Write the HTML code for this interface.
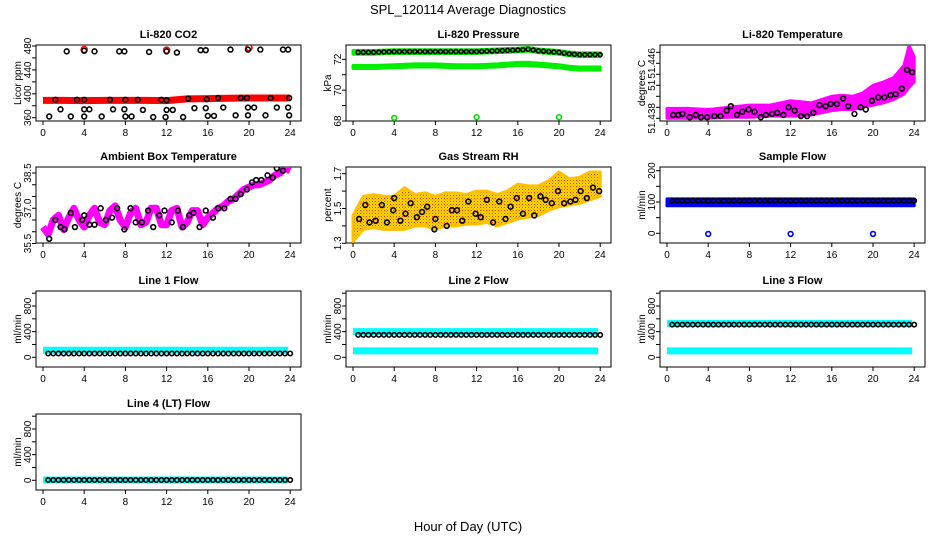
<!DOCTYPE html>
<html><head><meta charset="utf-8"><style>
body{margin:0;background:#fff;}
svg{display:block;font-family:"Liberation Sans",sans-serif;}
</style></head><body>
<svg id="chart" width="936" height="540" viewBox="0 0 936 540" xmlns="http://www.w3.org/2000/svg">
<defs>
<pattern id="rhpat" width="3" height="3" patternUnits="userSpaceOnUse"><rect width="3" height="3" fill="#ffe000"/><rect x="0" y="0" width="1" height="1" fill="#ff2000"/><rect x="1.5" y="1.5" width="1" height="1" fill="#ff6000"/></pattern>
</defs>
<text x="468" y="14" text-anchor="middle" font-size="13">SPL_120114  Average Diagnostics</text>
<text x="468" y="531" text-anchor="middle" font-size="13">Hour of Day (UTC)</text>
</svg>
<script>
// ---- data ----
const xTicks=[0,4,8,12,16,20,24];
// CO2
const co2BandHours=[0,2,4,6,8,10,12,13,14,16,18,20,22,24];
const co2BandVals=[389,389,388.5,389,389,389,388.5,390,391.5,392,392.5,393,393,393];
const co2SpikeHours=[4,12,20];
const co2SpikeVals=[474,473,477];
const co2CircHours=[2.3,4,5,7.4,7.9,10.3,12,13,15.3,15.8,18.2,19.9,21.1,23.3,23.8,1.2,3.3,4,6.5,8,9.2,11.5,12,14.1,15.9,17,19.2,19.8,22.1,23.9,1.7,4,4.5,6.8,7.9,9.7,12,12.6,14.7,15.8,17.5,19.9,20.5,22.7,23.8,0.6,2.7,4,5.7,8,8.6,10.7,11.9,13.6,16,16.6,18.7,19.9,21.6,23.9];
const co2CircVals=[471,472,471,471,471,470,471,469,473,473,474,474,474,474,474,390,390,390,390,390,390,390,389,392,391,393,393,393,393,393,374,374,374,374,374,373,373,373,376,376,377,377,377,377,377,362,362,362,362,362,362,361,361,361,363,363,364,364,364,364];
// Pressure
const presHours=[0,2,4,6,8,10,12,14,16,17,18,20,21,22,24];
const presUpper=[72.45,72.45,72.5,72.5,72.5,72.5,72.5,72.55,72.6,72.65,72.55,72.45,72.35,72.3,72.3];
const presLower=[71.5,71.5,71.55,71.6,71.6,71.55,71.55,71.6,71.7,71.7,71.65,71.55,71.45,71.4,71.4];
const presDropHours=[4,12,20];
const presDropVals=[68.2,68.25,68.25];
// Li-820 temperature (tick-index units)
const tempHours=[0,2,4,6,8,10,12,13,14,15,16,17,18,19,20,21,22,23,23.5,24];
const tempLow=[0.0,0.0,0.0,0.1,0.1,0.2,0.2,0.2,0.3,0.5,0.7,0.8,0.8,1.0,1.2,1.4,1.7,2.2,2.8,3.3];
const tempHigh=[0.9,0.9,0.8,1.0,1.2,1.2,1.6,1.5,1.4,1.7,2.0,2.1,2.0,2.3,3.0,3.3,3.7,4.8,6.6,5.6];
const tempCircHours=[0.6,1.1,1.5,2.2,2.8,3.3,3.9,4.6,5.2,5.8,6.2,6.8,7.3,7.9,8.5,9.1,9.6,10.2,10.7,11.3,11.8,12.4,13,13.6,14.2,14.8,15.4,15.9,16.5,17.1,17.6,18.2,18.8,19.3,19.9,20.5,21.1,21.7,22.2,22.8,23.3,23.8];
const tempCircVals=[0.3,0.3,0.4,0.1,0.3,0.1,0.1,0.2,0.2,0.7,1.1,0.3,0.6,0.8,0.6,0.1,0.3,0.4,0.5,0.3,1.0,0.7,0.2,0.2,0.5,1.2,1.1,1.3,1.3,1.8,1.1,0.4,1.0,0.8,1.6,1.9,1.9,2.1,2.2,2.7,4.4,4.2];
// Ambient box temperature
const ambHours=[0,0.5,1,1.5,2,2.5,3,3.5,4,4.5,5,5.5,6,6.5,7,7.5,8,8.5,9,9.5,10,10.5,11,11.5,12,12.5,13,13.5,14,14.5,15,15.5,16,16.5,17,17.5,18,18.5,19,19.5,20,20.5,21,21.5,22,22.5,23,23.5,24];
const ambVals=[36.2,35.9,36.5,36.7,36.1,36.6,37.0,36.5,36.2,36.7,37.0,36.4,36.3,36.9,37.1,36.5,36.2,36.8,37.0,36.3,36.4,37.0,37.0,36.3,36.3,36.9,37.0,36.2,36.4,36.9,36.9,36.3,36.6,36.8,37.0,37.1,37.3,37.4,37.6,37.8,37.9,38.0,38.0,38.1,38.2,38.4,38.5,38.7,38.6];
const ambCircHours=[0.6,1.2,1.7,2.1,2.7,3.1,3.8,4,4.5,5,5.6,6.1,6.7,7.2,7.9,8.5,9,9.6,10.2,10.7,11.3,11.8,12.5,13.1,13.6,14.2,14.6,15.2,15.8,16.5,17,17.6,18.2,18.7,19.2,19.8,20.3,20.7,21.2,21.8,22.3,22.7,23.3];
const ambCircVals=[35.7,36.5,36.2,36.1,36.8,36.2,36.5,36.7,36.3,36.3,37.0,36.5,36.6,37.0,36.1,37.0,36.4,36.4,36.9,36.2,36.7,36.9,36.4,36.9,36.2,36.7,36.8,36.2,36.9,36.6,37.0,37.0,37.4,37.4,37.6,37.8,38.1,38.2,38.2,38.4,38.3,38.7,38.6];
// Gas stream RH
const rhHours=[0,1,2,3,4,5,6,7,8,9,10,11,12,13,14,15,16,17,18,19,20,21,22,23,24];
const rhLow=[1.31,1.38,1.39,1.38,1.38,1.38,1.40,1.40,1.38,1.40,1.40,1.41,1.41,1.42,1.40,1.42,1.44,1.45,1.46,1.49,1.51,1.52,1.53,1.55,1.57];
const rhHigh=[1.46,1.57,1.58,1.57,1.57,1.62,1.58,1.59,1.57,1.59,1.59,1.58,1.60,1.60,1.58,1.60,1.64,1.63,1.63,1.66,1.71,1.67,1.68,1.71,1.71];
const rhCircHours=[0.6,1.2,1.6,2.2,2.8,3.3,3.9,4,4.6,5.1,5.6,6.2,6.7,7.2,7.9,8,9.1,9.6,10.1,10.6,11.2,11.9,12.4,13,13.6,14.2,14.8,15.3,15.9,16.5,17.1,17.6,18.2,18.7,19.3,19.9,20.5,21.1,21.6,22.1,22.7,23.3,23.9];
const rhCircVals=[1.44,1.52,1.42,1.43,1.52,1.42,1.49,1.56,1.43,1.47,1.53,1.45,1.48,1.51,1.38,1.44,1.40,1.49,1.49,1.43,1.54,1.47,1.45,1.55,1.42,1.54,1.44,1.51,1.56,1.47,1.56,1.46,1.57,1.55,1.53,1.60,1.53,1.54,1.55,1.60,1.56,1.62,1.60];
// Sample flow
const sfBandLow=88, sfBandHigh=110, sfCircVal=104;
const sfDropHours=[4,12,20];
const sfDropVals=[-2,-2,-2];
// Line flows: [band1, band2, circles]
const line1Vals=[110,null,60];
const line2Vals=[400,100,350];
const line3Vals=[530,100,510];
const line4Vals=[5,null,5];

// ---- layout ----
const svg=document.getElementById('chart');
const NS='http://www.w3.org/2000/svg';
const colLeft=[36,346,660], rowTop=[45,167,291,414], W=265, H=76;
function el(tag,attrs,parent){const e=document.createElementNS(NS,tag);for(const k in attrs)e.setAttribute(k,attrs[k]);(parent||svg).appendChild(e);return e;}
function makePanel(name,col,row,title,ylab,v0,r0,v1,r1,ticks,labels){
  const L=colLeft[col],T=rowTop[row];
  const g=el('g',{});
  
  
  const x=h=>L+7+h*10.3;
  const y=v=>T+r0+(v-v0)*(r1-r0)/(v1-v0);
  const t=el('text',{x:L+W/2,y:T-7,'text-anchor':'middle','font-size':'11','font-weight':'bold'},g);
  t.textContent=title;
  
  
  const box=el('rect',{x:L,y:T,width:W,height:H,fill:'none',stroke:'#000','stroke-width':1},g);
  
  
  const xa=el('g',{},g);
  
  
  xTicks.forEach(h=>{
    el('line',{x1:x(h),x2:x(h),y1:T+H,y2:T+H+4,stroke:'#000'},xa);
    const tl=el('text',{x:x(h),y:T+H+15,'text-anchor':'middle','font-size':'10'},xa);
    tl.textContent=h;
    
    
  });
  const ya=el('g',{},g);
  
  
  ticks.forEach((v,i)=>{
    const yy=y(v); if(yy<T-1||yy>T+H+1)return;
    el('line',{x1:L-4,x2:L,y1:yy,y2:yy,stroke:'#000'},ya);
    if(labels[i]!==''){
      const tl=el('text',{x:L-5,y:yy,'text-anchor':'middle','font-size':'10',transform:`rotate(-90 ${L-5} ${yy})`},ya);
      tl.textContent=labels[i];
      
      
    }
  });
  const al=el('text',{x:L-15,y:T+H/2,'text-anchor':'middle','font-size':'10',transform:`rotate(-90 ${L-15} ${T+H/2})`},g);
  al.textContent=ylab;
  
  
  const clipId='clip-'+name;
  const cp=el('clipPath',{id:clipId},g);el('rect',{x:L,y:T,width:W,height:H},cp);
  const plot=el('g',{'clip-path':`url(#${clipId})`},g);
  return {x,y,plot,L,T};
}
function circles(p,hs,vs,color,name,r){
  hs.forEach((h,i)=>{
    const c=el('circle',{cx:p.x(h),cy:p.y(vs[i]),r:r||2.4,fill:'none',stroke:color,'stroke-width':1.6},p.plot);
    
    
  });
}
function band(p,hs,lo,hi,fill,name){
  let d='M'+hs.map((h,i)=>p.x(h)+','+p.y(hi[i])).join('L');
  d+='L'+hs.slice().reverse().map((h,j)=>{const i=hs.length-1-j;return p.x(h)+','+p.y(lo[i]);}).join('L')+'Z';
  const e=el('path',{d,fill,stroke:fill==='url(#rhpat)'?'#ffc000':fill,'stroke-width':3,'stroke-linejoin':'round'},p.plot);
  
  
}
function line(p,hs,vs,color,w,name){
  const e=el('polyline',{points:hs.map((h,i)=>p.x(h)+','+p.y(vs[i])).join(' '),fill:'none',stroke:color,'stroke-width':w,'stroke-linejoin':'round'},p.plot);
  
  
}

// CO2
let p=makePanel('co2',0,0,'Li-820 CO2','Licor ppm',360,72.7,480,1,[360,380,400,420,440,460,480],['360','','400','','440','','480']);
line(p,co2BandHours,co2BandVals,'#ff0000',7,'co2-red-band');
circles(p,co2SpikeHours,co2SpikeVals,'#ff0000','co2-red-spike',3);
circles(p,co2CircHours,co2CircVals,'#000','co2-average-point');
// Pressure
p=makePanel('pressure',1,0,'Li-820 Pressure','kPa',68,76,72,14.3,[68,69,70,71,72],['68','','70','','72']);
band(p,presHours,presUpper.map(v=>v-0.12),presUpper.map(v=>v+0.12),'#00ee00','pressure-upper-band');
band(p,presHours,presLower.map(v=>v-0.1),presLower.map(v=>v+0.1),'#00ee00','pressure-lower-band');
circles(p,presDropHours,presDropVals,'#00dd00','pressure-drop-point');
{const hs=[],vs=[];for(let i=0;i<48;i++){const h=0.5+i*0.5;hs.push(h);let k=0;while(k<presHours.length-2&&presHours[k+1]<h)k++;const f=(h-presHours[k])/(presHours[k+1]-presHours[k]);vs.push(presUpper[k]+f*(presUpper[k+1]-presUpper[k]));}circles(p,hs,vs,'#000','pressure-average-point',2);}
// Li-820 temperature
p=makePanel('li820-temp',2,0,'Li-820 Temperature','degrees C',0,73.3,1,62.3,[0,1,2,3,4,5,6],['51.438','','','51','','51.446','']);
band(p,tempHours,tempLow,tempHigh,'#ff00ff','li820-temp-magenta-cloud');
circles(p,tempCircHours,tempCircVals,'#000','li820-temp-average-point');
// Ambient
p=makePanel('ambient',0,1,'Ambient Box Temperature','degrees C',35.5,76.5,38.5,6,[35.5,36,36.5,37,37.5,38,38.5],['35.5','','','37.0','','','38.5']);
line(p,ambHours,ambVals,'#ff00ff',7,'ambient-magenta-trace');
circles(p,ambCircHours,ambCircVals,'#000','ambient-average-point');
// RH
p=makePanel('rh',1,1,'Gas Stream RH','percent',1.3,76.3,1.7,6.7,[1.3,1.4,1.5,1.6,1.7],['1.3','','1.5','','1.7']);
band(p,rhHours,rhLow,rhHigh,'url(#rhpat)','rh-cloud');
circles(p,rhCircHours,rhCircVals,'#000','rh-average-point');
// Sample flow
p=makePanel('sample-flow',2,1,'Sample Flow','ml/min',0,66.3,200,3.7,[-50,0,50,100,150,200],['','0','','100','','200']);
band(p,[0,24],[sfBandLow,sfBandLow],[sfBandHigh,sfBandHigh],'#0000ff','sample-flow-band');
{const hs=[],vs=[];for(let i=0;i<48;i++){hs.push(0.5+i*0.5);vs.push(sfCircVal);}circles(p,hs,vs,'#000','sample-flow-average-point',2.2);}
circles(p,sfDropHours,sfDropVals,'#0000ff','sample-flow-drop-point');
// Line flows
function flowPanel(name,col,row,title,vals){
  const q=makePanel(name,col,row,title,'ml/min',0,66.3,800,15,[0,200,400,600,800,1000],['0','','400','','800','']);
  [vals[0],vals[1]].forEach((v,k)=>{if(v===null)return;line(q,[0,23.8],[v,v],'#00ffff',7,name+'-cyan-band-'+(k+1));});
  const hs=[],vs=[];for(let i=0;i<48;i++){hs.push(0.5+i*0.5);vs.push(vals[2]);}
  circles(q,hs,vs,'#000',name+'-average-point',2.2);
}
flowPanel('line1-flow',0,2,'Line 1 Flow',line1Vals);
flowPanel('line2-flow',1,2,'Line 2 Flow',line2Vals);
flowPanel('line3-flow',2,2,'Line 3 Flow',line3Vals);
flowPanel('line4-flow',0,3,'Line 4 (LT) Flow',line4Vals);
</script>
</body></html>
